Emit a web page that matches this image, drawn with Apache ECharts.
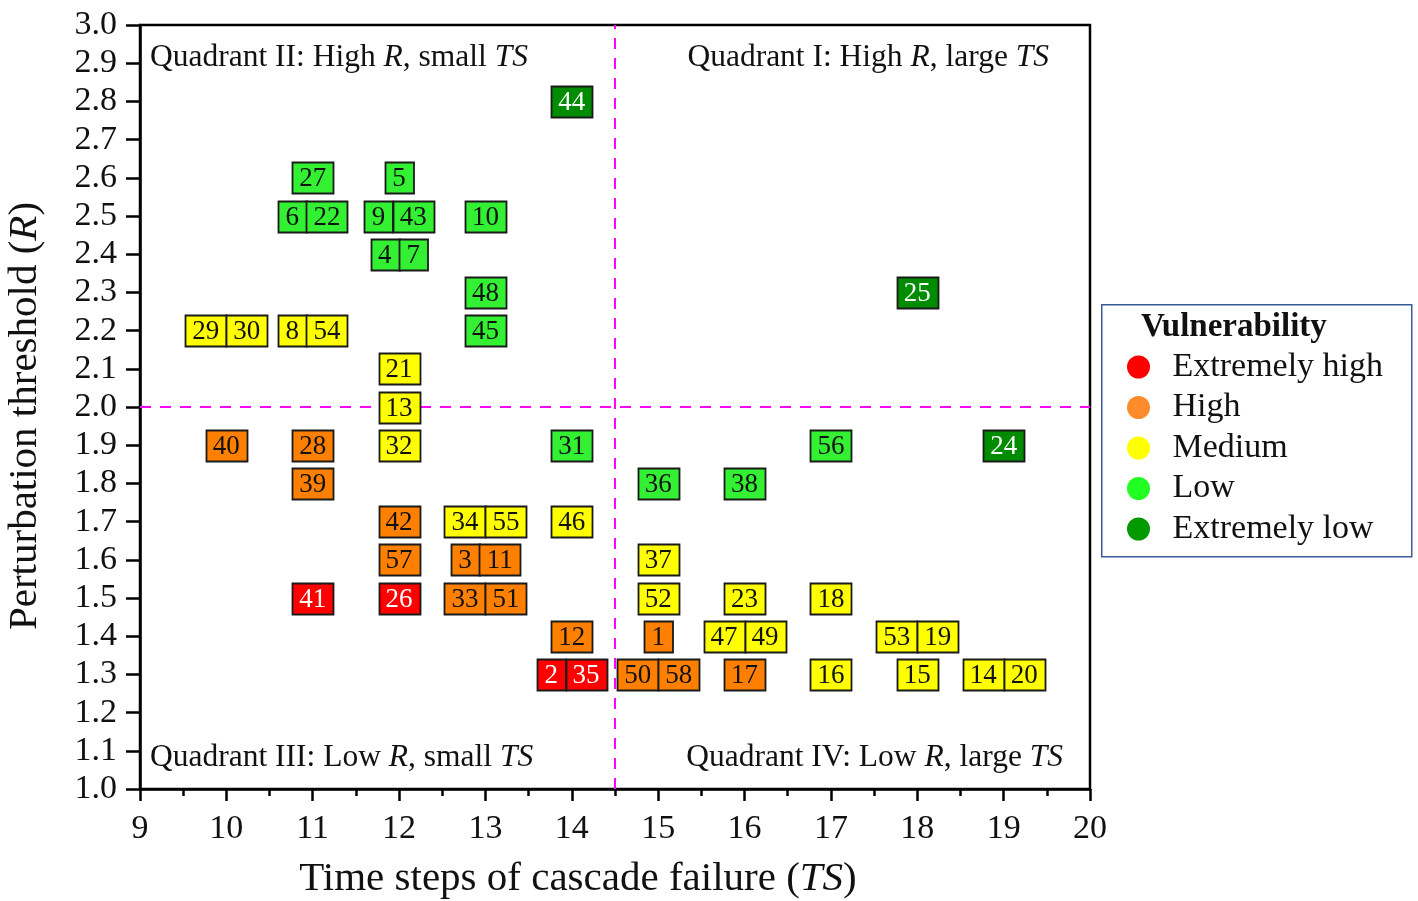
<!DOCTYPE html>
<html>
<head>
<meta charset="utf-8">
<script src="https://cdn.jsdelivr.net/npm/echarts@6/dist/echarts.min.js"></script>
<style>
  html, body { margin: 0; padding: 0; background: #fff; }
  #chart { width: 1418px; height: 901px; }
</style>
</head>
<body>
<div id="chart"></div>
<script>
// vulnerability classes, legend order
const levels = ['Extremely high', 'High', 'Medium', 'Low', 'Extremely low'];
const levelColors = ['#ff0000', '#ff8000', '#ffff00', '#33f033', '#008c00'];
const legendColors = ['#ff0000', '#ff8c2a', '#ffff00', '#22ff22', '#009900'];
const levelTextColors = ['#ffffff', '#111111', '#111111', '#111111', '#ffffff'];

// one entry per node; nodes sharing (TS, R) sit side by side, in this order
const nodeId    = [44, 27, 5, 6, 22, 9, 43, 10, 4, 7, 48, 25, 29, 30, 8, 54, 45, 21, 13,
                   40, 28, 32, 31, 56, 24, 39, 36, 38, 42, 34, 55, 46, 57, 3, 11, 37,
                   41, 26, 33, 51, 52, 23, 18, 12, 1, 47, 49, 53, 19, 2, 35, 50, 58, 17, 16, 15, 14, 20];
const nodeTS    = [14, 11, 12, 11, 11, 12, 12, 13, 12, 12, 13, 18, 10, 10, 11, 11, 13, 12, 12,
                   10, 11, 12, 14, 17, 19, 11, 15, 16, 12, 13, 13, 14, 12, 13, 13, 15,
                   11, 12, 13, 13, 15, 16, 17, 14, 15, 16, 16, 18, 18, 14, 14, 15, 15, 16, 17, 18, 19, 19];
const nodeR     = [2.8, 2.6, 2.6, 2.5, 2.5, 2.5, 2.5, 2.5, 2.4, 2.4, 2.3, 2.3, 2.2, 2.2, 2.2, 2.2, 2.2, 2.1, 2.0,
                   1.9, 1.9, 1.9, 1.9, 1.9, 1.9, 1.8, 1.8, 1.8, 1.7, 1.7, 1.7, 1.7, 1.6, 1.6, 1.6, 1.6,
                   1.5, 1.5, 1.5, 1.5, 1.5, 1.5, 1.5, 1.4, 1.4, 1.4, 1.4, 1.4, 1.4, 1.3, 1.3, 1.3, 1.3, 1.3, 1.3, 1.3, 1.3, 1.3];
// 0 = Extremely high ... 4 = Extremely low
const nodeLevel = [4, 3, 3, 3, 3, 3, 3, 3, 3, 3, 3, 4, 2, 2, 2, 2, 3, 2, 2,
                   1, 1, 2, 3, 3, 4, 1, 3, 3, 1, 2, 2, 2, 1, 1, 1, 2,
                   0, 0, 1, 1, 2, 2, 2, 1, 1, 2, 2, 2, 2, 0, 0, 1, 1, 1, 2, 2, 2, 2];

// quadrant dividers
const tsThreshold = 14.5;
const rThreshold = 2.0;

const FONT = '"Liberation Serif", "DejaVu Serif", serif';
const BOX_H = 31;
const boxWidth = id => 16 + 12.5 * String(id).length;

// group nodes into cells and work out the side-by-side offsets
const cells = {};
nodeId.forEach((id, i) => {
  const key = nodeTS[i] + '_' + nodeR[i];
  (cells[key] = cells[key] || []).push(i);
});
const nodeOffset = new Array(nodeId.length);
Object.keys(cells).forEach(key => {
  const members = cells[key];
  const total = members.reduce((s, i) => s + boxWidth(nodeId[i]), 0);
  let x = -total / 2;
  members.forEach(i => {
    const w = boxWidth(nodeId[i]);
    nodeOffset[i] = x + w / 2;
    x += w;
  });
});

const series = levels.map((name, li) => ({
  name: name,
  type: 'custom',
  z: 5,
  itemStyle: { color: legendColors[li] },
  data: nodeId.map((id, i) => [nodeTS[i], nodeR[i], id, nodeOffset[i], boxWidth(id), nodeLevel[i]])
              .filter(d => d[5] === li),
  renderItem: (params, api) => {
    const p = api.coord([api.value(0), api.value(1)]);
    const dx = api.value(3);
    const w = api.value(4);
    return {
      type: 'group',
      children: [
        {
          type: 'rect',
          shape: { x: Math.round(p[0] + dx - w / 2) + 0.5, y: Math.round(p[1] - BOX_H / 2) + 0.5, width: w, height: BOX_H },
          style: { fill: levelColors[li], stroke: '#1a1a1a', lineWidth: 1.8 }
        },
        {
          type: 'text',
          style: {
            text: String(api.value(2)),
            x: p[0] + dx, y: p[1] + 1.5,
            align: 'center', verticalAlign: 'middle',
            fill: levelTextColors[li],
            font: '27px ' + FONT
          }
        }
      ]
    };
  }
}));

// threshold lines drawn underneath the boxes
series.unshift({
  name: 'thresholds',
  type: 'scatter',
  data: [],
  z: 1,
  markLine: {
    silent: true,
    symbol: 'none',
    animation: false,
    label: { show: false },
    lineStyle: { color: '#ff00ff', type: [11, 9], width: 2 },
    data: [{ xAxis: tsThreshold }, { yAxis: rThreshold }]
  }
});

const chart = echarts.init(document.getElementById('chart'), null, { renderer: 'canvas' });

const quadStyle = { fontFamily: FONT, fontSize: 31.5, fill: '#111' };
const quadRich = { i: { fontFamily: FONT, fontSize: 31.5, fontStyle: 'italic', fill: '#111' } };

chart.setOption({
  animation: false,
  backgroundColor: '#fff',
  textStyle: { fontFamily: FONT },
  grid: {
    left: 140, top: 25, right: 328, bottom: 112,
    outerBoundsMode: 'none',
    containLabel: false,
    show: true, borderColor: '#000', borderWidth: 2.5, backgroundColor: 'transparent'
  },
  xAxis: {
    type: 'value',
    min: 9, max: 20, interval: 1,
    name: 'Time steps of cascade failure ({i|TS})',
    nameLocation: 'middle',
    nameGap: 70,
    nameTextStyle: {
      fontFamily: FONT, fontSize: 41, color: '#111',
      padding: [0, 74, 0, 0],
      rich: { i: { fontFamily: FONT, fontSize: 41, fontStyle: 'italic', color: '#111' } }
    },
    axisLine: { onZero: false, lineStyle: { color: '#000', width: 2.5 } },
    axisTick: { inside: false, length: 12, lineStyle: { color: '#000', width: 2.5 } },
    minorTick: { show: true, splitNumber: 2, length: 7, lineStyle: { color: '#000', width: 2.5 } },
    axisLabel: { margin: 23, fontFamily: FONT, fontSize: 34, color: '#111' },
    splitLine: { show: false }
  },
  yAxis: {
    type: 'value',
    min: 1.0, max: 3.0, interval: 0.1,
    name: 'Perturbation threshold ({i|R})',
    nameLocation: 'middle',
    nameRotate: 90,
    nameGap: 94,
    nameTextStyle: {
      fontFamily: FONT, fontSize: 41, color: '#111',
      padding: [0, 18, 0, 0],
      rich: { i: { fontFamily: FONT, fontSize: 41, fontStyle: 'italic', color: '#111' } }
    },
    axisLine: { onZero: false, lineStyle: { color: '#000', width: 2.5 } },
    axisTick: { inside: false, length: 14, lineStyle: { color: '#000', width: 2.5 } },
    axisLabel: {
      margin: 23, fontFamily: FONT, fontSize: 34, color: '#111',
      formatter: v => v.toFixed(1)
    },
    splitLine: { show: false }
  },
  legend: {
    data: levels.map(n => ({ name: n, icon: 'circle' })),
    orient: 'vertical',
    left: 1122, top: 345,
    itemWidth: 58, itemHeight: 23,
    itemGap: 6.5,
    selectedMode: false,
    textStyle: { fontFamily: FONT, fontSize: 34, color: '#111', lineHeight: 30 }
  },
  graphic: [
    {
      type: 'rect', left: 1101, top: 304, z: 0,
      shape: { width: 310, height: 252 },
      style: { fill: '#fff', stroke: '#3a5a9c', lineWidth: 1.5 }
    },
    {
      type: 'text', left: 1141, top: 311, z: 10,
      style: { text: 'Vulnerability', font: 'bold 33px ' + FONT, fill: '#111' }
    },
    {
      type: 'text', left: 150, top: 42, z: 10,
      style: Object.assign({ text: 'Quadrant II: High {i|R}, small {i|TS}', rich: quadRich }, quadStyle)
    },
    {
      type: 'text', right: 1418 - 1049, top: 42, z: 10,
      style: Object.assign({ text: 'Quadrant I: High {i|R}, large {i|TS}', rich: quadRich }, quadStyle)
    },
    {
      type: 'text', left: 150, top: 742, z: 10,
      style: Object.assign({ text: 'Quadrant III: Low {i|R}, small {i|TS}', rich: quadRich }, quadStyle)
    },
    {
      type: 'text', right: 1418 - 1063, top: 742, z: 10,
      style: Object.assign({ text: 'Quadrant IV: Low {i|R}, large {i|TS}', rich: quadRich }, quadStyle)
    }
  ],
  series: series
});
</script>
</body>
</html>
